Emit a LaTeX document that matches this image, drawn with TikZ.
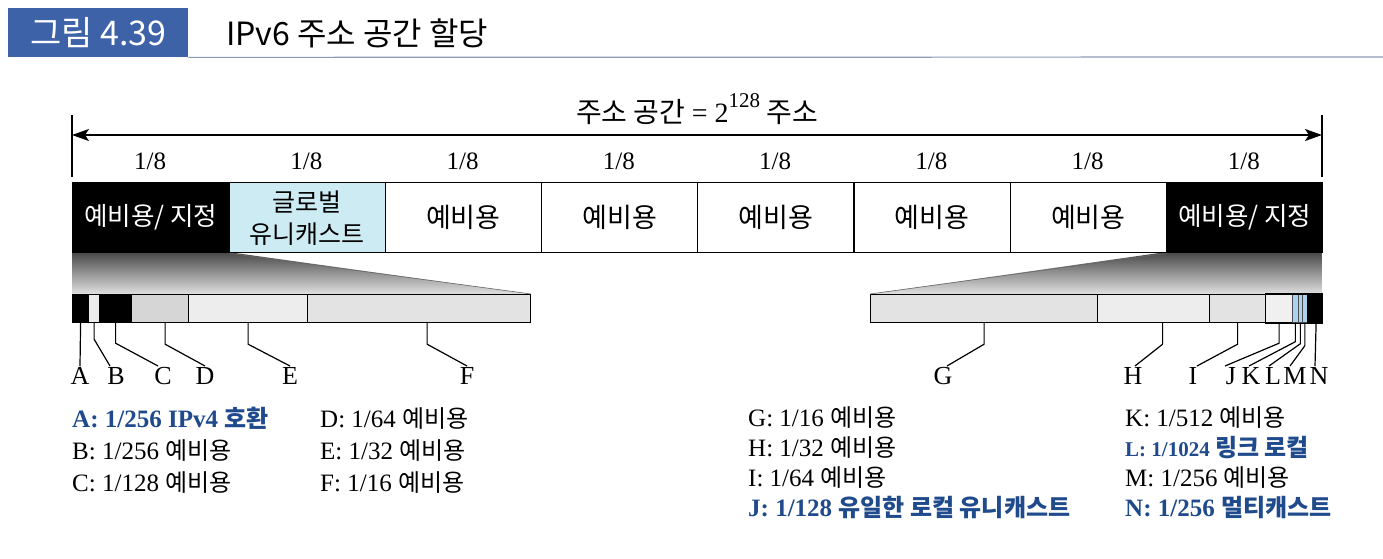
\documentclass[tikz,border=0pt]{standalone}
\usepackage{fontspec}
\setmainfont{Liberation Serif}
\newfontfamily\kr{Noto Sans CJK KR}
\usetikzlibrary{arrows.meta}
\definecolor{titleblue}{HTML}{3D62A8}
\definecolor{textblue}{HTML}{1F4A8C}
\definecolor{globcyan}{HTML}{CDEBF2}
\definecolor{kblue}{HTML}{A9D3EE}
\definecolor{rulecol}{HTML}{8A9BB5}
\newcommand\krt[1]{{\kr\fontsize{24}{28}\selectfont #1}}
\begin{document}
\begin{tikzpicture}[x=1pt,y=-1pt,
  seg/.style={draw=black, line width=1.4pt, minimum width=156.25pt, minimum height=70pt, inner sep=0pt, anchor=north west, align=center},
  wseg/.style={seg, fill=white, font=\kr\fontsize{27}{30}\selectfont},
  bseg/.style={seg, fill=black, text=white, font=\kr\fontsize{25.5}{28}\selectfont},
  cseg/.style={seg, fill=globcyan, font=\kr\fontsize{25}{32}\selectfont},
  sseg/.style={draw=black, line width=1.2pt, minimum height=28pt, inner sep=0pt, anchor=north west},
  tseg/.style={draw=black!70, line width=0.7pt, minimum height=28pt, inner sep=0pt, anchor=north west, fill=kblue},
  lbl/.style={font=\fontsize{26}{30}\selectfont, inner sep=0pt, anchor=north, text height=18pt, text depth=0pt},
  lead/.style={line width=1.2pt},
  frac/.style={font=\fontsize{25}{28}\selectfont, inner sep=0pt},
  leg/.style={font=\fontsize{25}{28}\selectfont, anchor=base west, inner sep=0pt},
  legb/.style={leg, text=textblue, font=\bfseries\fontsize{25}{28}\selectfont},
  tick/.style={line width=1.4pt}
]
\useasboundingbox (0,0) rectangle (1383,559);

% title
\node[fill=titleblue, minimum width=180pt, minimum height=49pt, inner sep=0pt, anchor=north west,
      text=white, font=\kr\fontsize{34}{36}\selectfont] (fig) at (8,8) {그림 4.39};
\draw[rulecol, line width=1.2pt] (fig.south east) -- (1383,57);
\node[anchor=west, inner sep=0pt, font=\kr\fontsize{32}{36}\selectfont] (ttl) at (226,33) {IPv6 주소 공간 할당};

% top dimension
\draw[tick] (72,115) -- (72,177);
\draw[tick] (1322,115) -- (1322,177);
\coordinate (arL) at (72,135);
\coordinate (arR) at (1322,135);
\draw[line width=1.4pt, {Stealth[length=17pt,width=12pt,inset=4pt]}-{Stealth[length=17pt,width=12pt,inset=4pt]}] (arL) -- (arR);
\node[inner sep=0pt, font=\kr\fontsize{28}{30}\selectfont] (hdr) at (697,109)
  {주소 공간 {\rmfamily\fontsize{28}{30}\selectfont = 2\raisebox{0.55em}{\fontsize{21}{22}\selectfont 128}} 주소};

% eighth labels
\foreach \i in {0,...,7}{
  \node[frac] (fr\i) at ({72+156.25*(\i+0.5)},161) {1/8};
}

% shaded trapezoids
\shade[top color=black!72, bottom color=black!12] (72,252) -- (228,252) -- (530,294) -- (72,294) -- cycle;
\shade[top color=black!72, bottom color=black!12] (1166,252) -- (1322,252) -- (1322,294) -- (870,294) -- cycle;

% main bar
\node[bseg] (m1) at (72,182) {예비용/ 지정};
\node[cseg] (m2) at (228.25,182) {글로벌\\유니캐스트};
\node[wseg] (m3) at (384.5,182) {예비용};
\node[wseg] (m4) at (540.75,182) {예비용};
\node[wseg] (m5) at (697,182) {예비용};
\node[wseg] (m6) at (853.25,182) {예비용};
\node[wseg] (m7) at (1009.5,182) {예비용};
\node[bseg] (m8) at (1165.75,182) {예비용/ 지정};

% left small bar
\node[sseg, fill=black, minimum width=16pt] (sA) at (72,294) {};
\node[sseg, fill=black!8, minimum width=11pt] (sB) at (88,294) {};
\node[sseg, fill=black, minimum width=32pt] (sC) at (99,294) {};
\node[sseg, fill=black!16, minimum width=57pt] (sD) at (131,294) {};
\node[sseg, fill=black!7, minimum width=119pt] (sE) at (188,294) {};
\node[sseg, fill=black!11, minimum width=223pt] (sF) at (307,294) {};

% right small bar
\node[sseg, fill=black!11, minimum width=227pt] (sG) at (870,294) {};
\node[sseg, fill=black!7, minimum width=112pt] (sH) at (1097,294) {};
\node[sseg, fill=black!11, minimum width=56pt] (sI) at (1209,294) {};
\node[sseg, fill=black!6, minimum width=27pt] (sJ) at (1265,294) {};
\node[tseg, minimum width=6pt] (sK) at (1292,294) {};
\node[tseg, minimum width=4pt] (sL) at (1298,294) {};
\node[tseg, minimum width=5pt] (sM) at (1302,294) {};
\node[sseg, fill=black, minimum width=15pt] (sN) at (1307,294) {};
\draw[line width=1.2pt] (sJ.north west) -- (sN.north east);
\draw[line width=1.2pt] (sJ.south west) -- (sN.south east);

% trapezoid edges
\draw[black!60, line width=0.6pt] (m1.south east) -- (sF.north east);
\draw[black!60, line width=0.6pt] (m8.south west) -- (sG.north west);

% letter labels
\node[lbl] (lA) at (80,366) {A};
\node[lbl] (lB) at (116,366) {B};
\node[lbl] (lC) at (163,366) {C};
\node[lbl] (lD) at (205,366) {D};
\node[lbl] (lE) at (290,366) {E};
\node[lbl] (lF) at (467,366) {F};
\node[lbl] (lG) at (943,366) {G};
\node[lbl] (lH) at (1133,366) {H};
\node[lbl] (lI) at (1193,366) {I};
\node[lbl] (lJ) at (1231,366) {J};
\node[lbl] (lK) at (1251,366) {K};
\node[lbl] (lL) at (1273,366) {L};
\node[lbl] (lM) at (1295,366) {M};
\node[lbl] (lN) at (1319,366) {N};

% leader lines
\draw[lead] (sA.south) -- (lA.north);
\draw[lead] (sB.south) -- ++(0,16) -- ([xshift=-6pt]lB.north);
\draw[lead] (sC.south) -- ++(0,20) -- ([xshift=-5pt]lC.north);
\draw[lead] ([xshift=5pt]sD.south) -- ++(0,21) -- (lD.north);
\draw[lead] (sE.south) -- ++(0,21) -- (lE.north);
\draw[lead] ([xshift=8pt]sF.south) -- ++(0,21) -- (lF.north);
\draw[lead] (sG.south) -- ++(0,21) -- ([xshift=4pt]lG.north);
\draw[lead] ([xshift=9pt]sH.south) -- ++(0,21) -- ([xshift=2pt]lH.north);
\draw[lead] (sI.south) -- ++(0,21) -- ([xshift=4pt]lI.north);
\draw[lead] (sJ.south) -- ++(0,20) -- ([xshift=-6pt]lJ.north);
\draw[lead] (sK.south) -- ++(0,19) -- ([xshift=-2pt]lK.north);
\draw[lead] (sL.south) -- ++(0,21) -- ([xshift=-4pt]lL.north);
\draw[lead] (sM.south) -- ++(0,23) -- ([xshift=-5pt]lM.north);
\draw[lead] ([xshift=1pt]sN.south) -- ([xshift=-4pt]lN.north);

% legend
\node[legb] (gA) at (72,427) {A: 1/256 IPv4 \krt{호환}};
\node[leg] (gB) at (72,459) {B: 1/256 \krt{예비용}};
\node[leg] (gC) at (72,491) {C: 1/128 \krt{예비용}};
\node[leg] (gD) at (320,427) {D: 1/64 \krt{예비용}};
\node[leg] (gE) at (320,459) {E: 1/32 \krt{예비용}};
\node[leg] (gF) at (320,491) {F: 1/16 \krt{예비용}};
\node[leg] (gG) at (748,426) {G: 1/16 \krt{예비용}};
\node[leg] (gH) at (748,456) {H: 1/32 \krt{예비용}};
\node[leg] (gI) at (748,486) {I: 1/64 \krt{예비용}};
\node[legb] (gJ) at (748,516) {J: 1/128 \krt{유일한 로컬 유니캐스트}};
\node[leg] (gK) at (1125,426) {K: 1/512 \krt{예비용}};
\node[legb, font=\bfseries\fontsize{21}{24}\selectfont] (gL) at (1125,456) {L: 1/1024 \krt{링크 로컬}};
\node[leg] (gM) at (1125,486) {M: 1/256 \krt{예비용}};
\node[legb] (gN) at (1125,516) {N: 1/256 \krt{멀티캐스트}};
\end{tikzpicture}
\end{document}
